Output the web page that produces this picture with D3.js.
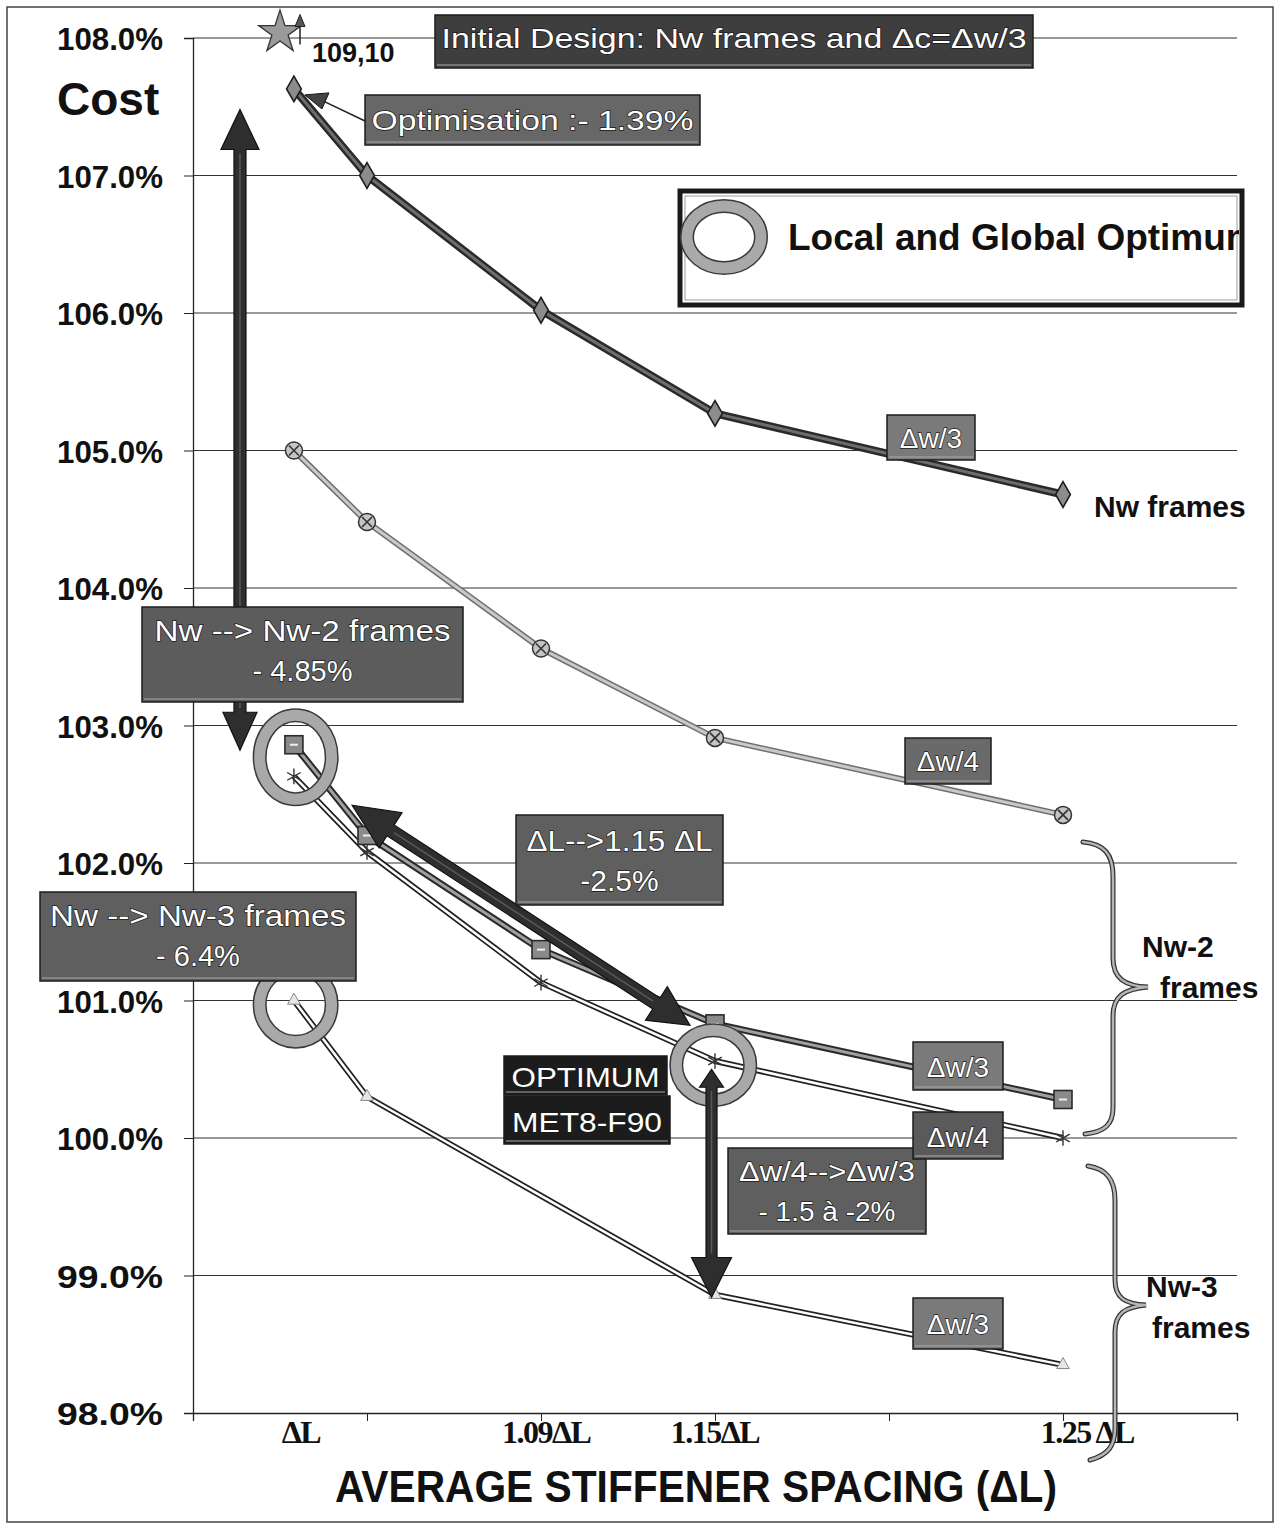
<!DOCTYPE html>
<html><head><meta charset="utf-8">
<script src="https://cdn.jsdelivr.net/npm/d3@7"></script>
<style>body{margin:0;background:#fff}svg{display:block}</style>
</head><body>
<svg id="c" width="1279" height="1529"></svg>
<script>
// ---------------- data ----------------
const xTickPositions = [0, 1, 2, 3, 4, 5, 6];
const xLabels = ["ΔL", "1.09ΔL", "1.15ΔL", "1.25 ΔL"];
const xLabelAt = [0.62, 2.03, 3.0, 5.14];
const yTicks = [98, 99, 100, 101, 102, 103, 104, 105, 106, 107, 108];

const xSpacing = [0.58, 1, 2, 3, 5];
const nwDw3  = [107.63, 107.00, 106.02, 105.27, 104.68];
const nwDw4  = [105.00, 104.48, 103.56, 102.91, 102.35];
const nw2Dw3 = [102.86, 102.20, 101.37, 100.83, 100.28];
const nw2Dw4 = [102.63, 102.08, 101.13, 100.56, 100.00];
const nw3Spacing = [0.58, 1, 3, 5];
const nw3Dw3 = [101.00, 100.30, 98.86, 98.35];

const initialDesign = {x: 0.5, y: 108.04, label: "109,10"};
const optimaX = [0.59, 0.59, 2.99];
const optimaY = [102.77, 100.97, 100.53];

// ---------------- setup ----------------
const svg = d3.select("#c");
const x = d3.scaleLinear().domain([0, 6]).range([193, 1237]);
const y = d3.scaleLinear().domain([98, 108]).range([1413, 38]);
const SANS = "'Liberation Sans', Arial, Helvetica, sans-serif";
const NARROW = "'Liberation Sans Narrow','Arial Narrow','Liberation Sans',Arial,sans-serif";
const SERIF = "'Liberation Serif','Times New Roman',serif";
function fit(sel, len){ return sel.attr("textLength", len).attr("lengthAdjust", "spacingAndGlyphs"); }

// outer frame
svg.append("rect").attr("x", 7).attr("y", 7).attr("width", 1266).attr("height", 1515)
  .attr("fill", "none").attr("stroke", "#444").attr("stroke-width", 1.5);

// gridlines
svg.append("g").selectAll("line").data(yTicks.slice(1)).join("line")
  .attr("x1", x(0)).attr("x2", x(6)).attr("y1", d => y(d)).attr("y2", d => y(d))
  .attr("stroke", "#333").attr("stroke-width", 1);

// axes
const yAxis = svg.append("g").attr("transform", `translate(${x(0)},0)`)
  .call(d3.axisLeft(y).tickValues(yTicks).tickSize(9).tickPadding(21).tickFormat(d => d.toFixed(1) + "%"));
yAxis.select(".domain").attr("stroke", "#222").attr("stroke-width", 1.3);
yAxis.selectAll(".tick line").attr("stroke", "#222");
yAxis.selectAll("text").attr("font-family", NARROW).attr("font-weight", "bold")
  .attr("font-size", 32).attr("fill", "#111").attr("dy", "0.36em");
fit(yAxis.selectAll("text"), 106);

const xAxis = svg.append("g").attr("transform", `translate(0,${y(98)})`)
  .call(d3.axisBottom(x).tickValues(xTickPositions).tickSize(8).tickFormat(""));
xAxis.select(".domain").attr("stroke", "#222").attr("stroke-width", 1.3);
xAxis.selectAll(".tick line").attr("stroke", "#222");

// x labels
svg.append("g").selectAll("text").data(xLabels).join("text")
  .attr("x", (d, i) => x(xLabelAt[i])).attr("y", 1443)
  .attr("text-anchor", "middle").attr("font-family", SERIF).attr("font-weight", "bold")
  .attr("font-size", 32).attr("letter-spacing", -1.5).attr("fill", "#111").text(d => d);

// axis title
fit(svg.append("text").attr("x", 335).attr("y", 1502).attr("font-family", SANS).attr("font-weight", "bold")
  .attr("font-size", 44).attr("fill", "#111").text("AVERAGE STIFFENER SPACING (ΔL)"), 722);

// Cost label
svg.append("text").attr("x", 57).attr("y", 115).attr("font-family", SANS).attr("font-weight", "bold")
  .attr("font-size", 46).attr("fill", "#111").text("Cost");

// ---------------- series lines ----------------
const line = d3.line().x(d => x(d[0])).y(d => y(d[1]));
function series(xs, ys, outer, ow, inner, iw){
  const pts = xs.map((v, i) => [v, ys[i]]);
  svg.append("path").attr("d", line(pts)).attr("fill", "none").attr("stroke", outer).attr("stroke-width", ow).attr("stroke-linejoin", "round");
  svg.append("path").attr("d", line(pts)).attr("fill", "none").attr("stroke", inner).attr("stroke-width", iw).attr("stroke-linejoin", "round");
  return pts;
}
const pA = series(xSpacing, nwDw3, "#2a2a2a", 8, "#6e6e6e", 3);
const pB = series(xSpacing, nwDw4, "#707070", 6, "#c9c9c9", 3);
const pC = series(xSpacing, nw2Dw3, "#2a2a2a", 7, "#a0a0a0", 3);
const pD = series(xSpacing, nw2Dw4, "#222", 6, "#fff", 2.5);
const pE = series(nw3Spacing, nw3Dw3, "#222", 6, "#fff", 2.5);

// markers
svg.append("g").selectAll("path").data(pA).join("path")
  .attr("transform", d => `translate(${x(d[0])},${y(d[1])})`)
  .attr("d", d3.symbol(d3.symbolDiamond, 190)).attr("fill", "#8c8c8c").attr("stroke", "#1e1e1e").attr("stroke-width", 1.6);

const gB = svg.append("g").selectAll("g").data(pB).join("g")
  .attr("transform", d => `translate(${x(d[0])},${y(d[1])})`);
gB.append("circle").attr("r", 8.5).attr("fill", "#c4c4c4").attr("stroke", "#333").attr("stroke-width", 1.5);
gB.append("path").attr("d", "M-5,-5L5,5M-5,5L5,-5").attr("stroke", "#333").attr("stroke-width", 1.6);

const gC = svg.append("g").selectAll("g").data(pC).join("g")
  .attr("transform", d => `translate(${x(d[0])},${y(d[1])})`);
gC.append("rect").attr("x", -9).attr("y", -9).attr("width", 18).attr("height", 18)
  .attr("fill", "#8a8a8a").attr("stroke", "#2a2a2a").attr("stroke-width", 1.6);
gC.append("line").attr("x1", -4).attr("x2", 4).attr("stroke", "#eee").attr("stroke-width", 2);

svg.append("g").selectAll("path").data(pD).join("path")
  .attr("transform", d => `translate(${x(d[0])},${y(d[1])})`)
  .attr("d", d3.symbol(d3.symbolAsterisk, 170)).attr("fill", "none").attr("stroke", "#333").attr("stroke-width", 1.4);

svg.append("g").selectAll("path").data(pE).join("path")
  .attr("transform", d => `translate(${x(d[0])},${y(d[1])})`)
  .attr("d", d3.symbol(d3.symbolTriangle, 70)).attr("fill", "#e6e6e6").attr("stroke", "#888").attr("stroke-width", 1);

// initial design star
const sx = x(initialDesign.x), sy = y(initialDesign.y);
svg.append("path").attr("transform", `translate(${sx},${sy})`)
  .attr("d", d3.symbol(d3.symbolStar, 560)).attr("fill", "#9a9a9a").attr("stroke", "#333").attr("stroke-width", 1.3);
svg.append("line").attr("x1", sx + 20).attr("x2", sx + 20).attr("y1", sy + 12).attr("y2", sy - 8).attr("stroke", "#222").attr("stroke-width", 1.5);
svg.append("path").attr("d", `M${sx+20},${sy-18}L${sx+25},${sy-6}L${sx+15},${sy-6}Z`).attr("fill", "#555").attr("stroke", "#222");
svg.append("text").attr("x", sx + 32).attr("y", sy + 29).attr("font-family", SANS).attr("font-weight", "bold")
  .attr("font-size", 27).attr("fill", "#111").text(initialDesign.label);

// ---------------- optimum rings ----------------
function ring(cx, cy, rx, ry){
  svg.append("ellipse").attr("cx", cx).attr("cy", cy).attr("rx", rx).attr("ry", ry)
    .attr("fill", "none").attr("stroke", "#3a3a3a").attr("stroke-width", 14);
  svg.append("ellipse").attr("cx", cx).attr("cy", cy).attr("rx", rx).attr("ry", ry)
    .attr("fill", "none").attr("stroke", "#a9a9a9").attr("stroke-width", 11);
}
ring(x(optimaX[0]), y(optimaY[0]), 36, 42);
ring(x(optimaX[1]), y(optimaY[1]), 36, 37);
ring(x(optimaX[2]), y(optimaY[2]), 37, 35);

// ---------------- arrows ----------------
function arrow(x1, y1, x2, y2, sw, h1, w1, h2, w2){
  const dx = x2 - x1, dy = y2 - y1, L = Math.hypot(dx, dy);
  const ux = dx / L, uy = dy / L, nx = -uy, ny = ux;
  const P = (a, b, t, s) => [a + ux * t + nx * s, b + uy * t + ny * s];
  const pts = [];
  pts.push([x1, y1]);
  if (h1 > 0){ pts.push(P(x1, y1, h1, w1 / 2)); pts.push(P(x1, y1, h1, sw / 2)); } else pts.push(P(x1, y1, 0, sw / 2));
  if (h2 > 0){ pts.push(P(x2, y2, -h2, sw / 2)); pts.push(P(x2, y2, -h2, w2 / 2)); pts.push([x2, y2]);
               pts.push(P(x2, y2, -h2, -w2 / 2)); pts.push(P(x2, y2, -h2, -sw / 2)); }
  if (h1 > 0){ pts.push(P(x1, y1, h1, -sw / 2)); pts.push(P(x1, y1, h1, -w1 / 2)); } else pts.push(P(x1, y1, 0, -sw / 2));
  svg.append("path").attr("d", "M" + pts.map(p => p.join(",")).join("L") + "Z")
    .attr("fill", "#2e2e2e").attr("stroke", "#111").attr("stroke-width", 1.2).attr("stroke-linejoin", "miter");
  svg.append("line").attr("x1", P(x1, y1, h1 + 4, 0)[0]).attr("y1", P(x1, y1, h1 + 4, 0)[1])
    .attr("x2", P(x2, y2, -h2 - 4, 0)[0]).attr("y2", P(x2, y2, -h2 - 4, 0)[1])
    .attr("stroke", "#5a5a5a").attr("stroke-width", 1.5);
}
arrow(x(0.27), y(107.48), x(0.27), y(102.82), 12, 40, 38, 38, 34);
arrow(x(0.914), y(102.42), x(2.856), y(100.82), 13, 46, 42, 40, 40);
arrow(x(2.98), y(100.50), x(2.98), y(98.84), 11, 18, 24, 40, 40);

// optimisation pointer
{
  const tx = x(xSpacing[0]) + 11, ty = y(nwDw3[0]) + 6;
  svg.append("line").attr("x1", 365).attr("y1", 121).attr("x2", tx + 18).attr("y2", ty + 6).attr("stroke", "#222").attr("stroke-width", 1.6);
  svg.append("path").attr("d", `M${tx},${ty}L${tx+24},${ty-2}L${tx+17},${ty+14}Z`).attr("fill", "#444").attr("stroke", "#111");
}

// ---------------- braces ----------------
function brace(d){
  svg.append("path").attr("d", d).attr("fill", "none").attr("stroke", "#333").attr("stroke-width", 5).attr("stroke-linecap", "round");
  svg.append("path").attr("d", d).attr("fill", "none").attr("stroke", "#b5b5b5").attr("stroke-width", 2.5).attr("stroke-linecap", "round");
}
brace("M1083,842 C1104,844 1113,854 1113,876 L1113,958 C1113,978 1124,986 1148,987 C1124,989 1113,996 1113,1016 L1113,1108 C1113,1124 1105,1132 1085,1134");
brace("M1088,1166 C1107,1169 1115,1180 1115,1200 L1115,1280 C1115,1298 1125,1304 1146,1305 C1125,1307 1115,1313 1115,1332 L1115,1428 C1115,1446 1108,1455 1090,1460");

// ---------------- legend ----------------
svg.append("rect").attr("x", 680).attr("y", 191).attr("width", 562).attr("height", 114)
  .attr("fill", "#fff").attr("stroke", "#1a1a1a").attr("stroke-width", 5);
svg.append("rect").attr("x", 685).attr("y", 196).attr("width", 552).attr("height", 104)
  .attr("fill", "none").attr("stroke", "#9a9a9a").attr("stroke-width", 1);
svg.append("clipPath").attr("id", "lgclip").append("rect").attr("x", 686).attr("y", 196).attr("width", 553).attr("height", 104);
ring(724, 237, 37, 31);
svg.append("text").attr("clip-path", "url(#lgclip)").attr("x", 788).attr("y", 250)
  .attr("font-family", SANS).attr("font-weight", "bold").attr("font-size", 37).attr("fill", "#111").text("Local and Global Optimum");

// ---------------- annotation boxes ----------------
function box(x0, y0, w, h, fill, lines, fs, baseY, lh, tw){
  svg.append("rect").attr("x", x0).attr("y", y0).attr("width", w).attr("height", h)
    .attr("fill", fill).attr("stroke", "#1c1c1c").attr("stroke-width", 1.5);
  svg.append("line").attr("x1", x0 + 2).attr("x2", x0 + w - 2).attr("y1", y0 + h - 3).attr("y2", y0 + h - 3)
    .attr("stroke", "#aaa").attr("stroke-width", 1);
  lines.forEach((t, i) => {
    const el = svg.append("text").attr("x", x0 + w / 2).attr("y", baseY + i * lh).attr("text-anchor", "middle")
      .attr("font-family", SANS).attr("font-size", fs).attr("fill", "#fff")
      .attr("stroke", "#1a1a1a").attr("stroke-width", 1.3).attr("paint-order", "stroke")
      .text(t);
    if (tw && tw[i]) fit(el, tw[i]);
  });
}
box(435, 15, 598, 53, "#3e3e3e", ["Initial Design: Nw frames and Δc=Δw/3"], 28, 48, 0, [585]);
box(365, 95, 335, 50, "#676767", ["Optimisation :- 1.39%"], 28, 130, 0, [322]);
box(142, 607, 321, 95, "#5c5c5c", ["Nw --> Nw-2 frames", "- 4.85%"], 29, 641, 40, [296, 0]);
box(516, 815, 207, 90, "#5f5f5f", ["ΔL-->1.15 ΔL", "-2.5%"], 30, 851, 40, [186, 0]);
box(40, 892, 316, 89, "#5f5f5f", ["Nw --> Nw-3 frames", "- 6.4%"], 29, 926, 40, [296, 0]);
box(887, 415, 88, 45, "#7a7a7a", ["Δw/3"], 28, 448, 0, null);
box(905, 738, 86, 46, "#6a6a6a", ["Δw/4"], 28, 771, 0, null);
box(913, 1042, 90, 48, "#7a7a7a", ["Δw/3"], 28, 1077, 0, null);
box(728, 1148, 198, 86, "#5f5f5f", ["Δw/4-->Δw/3", "- 1.5 à -2%"], 28, 1181, 40, [176, 0]);
box(913, 1112, 90, 47, "#5a5a5a", ["Δw/4"], 28, 1147, 0, null);
box(913, 1298, 90, 51, "#7a7a7a", ["Δw/3"], 28, 1334, 0, null);
box(504, 1056, 163, 39, "#1c1c1c", ["OPTIMUM"], 28, 1087, 0, [148]);
box(504, 1096, 166, 48, "#1c1c1c", ["MET8-F90"], 28, 1132, 0, [150]);

// ---------------- group labels ----------------
function lab(t, x0, y0){
  svg.append("text").attr("x", x0).attr("y", y0).attr("font-family", SANS).attr("font-weight", "bold")
    .attr("font-size", 30).attr("fill", "#111").text(t);
}
lab("Nw frames", 1094, 517);
lab("Nw-2", 1142, 957);
lab("frames", 1160, 998);
lab("Nw-3", 1146, 1297);
lab("frames", 1152, 1338);
</script>
</body></html>
